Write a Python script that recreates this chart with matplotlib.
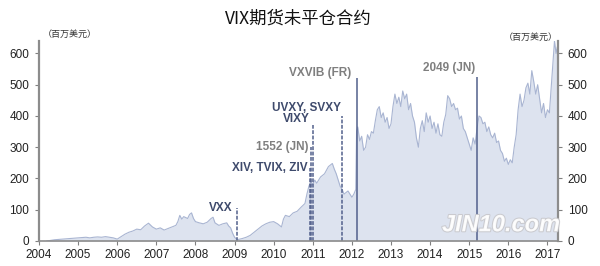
import matplotlib
matplotlib.use('Agg')
import matplotlib.pyplot as plt
import matplotlib.patheffects as pe

plt.rcParams['font.family'] = ['Liberation Sans', 'Noto Sans CJK SC', 'DejaVu Sans']

# open interest, million USD (decimal year, value)
dates = [2004.2, 2004.3, 2004.4, 2004.5, 2004.6, 2004.7, 2004.8, 2004.9,
         2005.0, 2005.1, 2005.2, 2005.3, 2005.4, 2005.5, 2005.6, 2005.7, 2005.8, 2005.9,
         2006.0, 2006.1, 2006.2, 2006.3, 2006.4, 2006.5, 2006.6, 2006.7, 2006.8, 2006.9,
         2007.0, 2007.1, 2007.2, 2007.3, 2007.4, 2007.5, 2007.55, 2007.6, 2007.65, 2007.7,
         2007.8, 2007.85, 2007.9, 2007.95,
         2008.0, 2008.1, 2008.2, 2008.3, 2008.4, 2008.45, 2008.5, 2008.6, 2008.7, 2008.8,
         2008.85, 2008.9, 2008.95,
         2009.0, 2009.05, 2009.1, 2009.2, 2009.3, 2009.4, 2009.5, 2009.6, 2009.7, 2009.8, 2009.9,
         2010.0, 2010.1, 2010.2, 2010.25, 2010.3, 2010.4, 2010.5, 2010.6, 2010.7, 2010.8,
         2010.85, 2010.9, 2010.95,
         2011.0, 2011.05, 2011.1, 2011.2, 2011.3, 2011.4, 2011.5, 2011.55, 2011.6, 2011.7,
         2011.75, 2011.8, 2011.9,
         2012.0, 2012.05, 2012.1, 2012.12, 2012.15, 2012.2, 2012.25, 2012.3, 2012.35, 2012.4,
         2012.45, 2012.5, 2012.55, 2012.6, 2012.65, 2012.7, 2012.75, 2012.8, 2012.85, 2012.9,
         2012.95,
         2013.0, 2013.05, 2013.1, 2013.15, 2013.2, 2013.25, 2013.3, 2013.35, 2013.4, 2013.45,
         2013.5, 2013.55, 2013.6, 2013.65, 2013.7, 2013.75, 2013.8, 2013.85, 2013.9, 2013.95,
         2014.0, 2014.05, 2014.1, 2014.15, 2014.2, 2014.25, 2014.3, 2014.35, 2014.4, 2014.45,
         2014.5, 2014.55, 2014.6, 2014.65, 2014.7, 2014.75, 2014.8, 2014.85, 2014.9, 2014.95,
         2015.0, 2015.05, 2015.1, 2015.15, 2015.2, 2015.25, 2015.3, 2015.35, 2015.4, 2015.45,
         2015.5, 2015.55, 2015.6, 2015.65, 2015.7, 2015.75, 2015.8, 2015.85, 2015.9, 2015.95,
         2016.0, 2016.05, 2016.1, 2016.15, 2016.2, 2016.25, 2016.3, 2016.35, 2016.4, 2016.45,
         2016.5, 2016.55, 2016.6, 2016.65, 2016.7, 2016.75, 2016.8, 2016.85, 2016.9, 2016.95,
         2017.0, 2017.05, 2017.1, 2017.15, 2017.18, 2017.22, 2017.25]
values = [0, 2, 4, 5, 6, 7, 8, 9,
          10, 11, 12, 10, 12, 13, 12, 14, 12, 10,
          6, 14, 22, 28, 32, 38, 36, 48, 57, 45,
          38, 42, 35, 40, 45, 50, 62, 82, 70, 78,
          72, 85, 90, 72,
          62, 58, 55, 60, 72, 76, 58, 50, 55, 58,
          48, 42, 25,
          12, 6, 5, 8, 12, 18, 28, 38, 48, 55, 60,
          62, 55, 45, 70, 82, 78, 90, 95, 108, 120,
          150, 175, 190,
          180, 195, 185, 205, 215, 238, 248, 230, 215, 175,
          165, 150, 160,
          140, 150, 165, 350, 365, 320, 335, 290, 300, 340,
          325, 350, 345, 385, 420, 430, 395, 410, 380, 395,
          360,
          375, 430, 470, 440, 460, 430, 480, 455, 470, 420,
          440, 400, 380, 330, 300, 360, 385, 350, 410, 380,
          400, 360, 380, 345, 375, 340, 335, 380, 405, 465,
          455, 430, 440, 420, 425, 390, 400, 360, 350, 330,
          310, 290, 330, 310, 360, 400, 395, 375, 380, 350,
          365, 340, 330, 345, 315, 320, 290, 280, 255, 265,
          245, 260, 250, 300, 340, 420, 470, 430, 450, 490,
          505, 470, 545, 510, 470, 500, 455, 410, 440, 395,
          420, 410, 500, 590, 640, 600, 620]

# product launches
event_x = [2009.07, 2010.93, 2010.96, 2011.0, 2011.75, 2012.12, 2015.2]
event_top = [105, 235, 300, 370, 400, 520, 525]
event_dashed = [True, True, True, True, True, False, False]

years = list(range(2004, 2018))
yticks = [0, 100, 200, 300, 400, 500, 600]

fig = plt.figure(figsize=(6, 2.66), dpi=100)
ax = fig.add_axes([0.065, 0.094, 0.865, 0.752])

ax.fill_between(dates, values, color='#dde3ef', lw=0)
ax.plot(dates, values, color='#a9b5d2', lw=0.8)

for x, top, dsh in zip(event_x, event_top, event_dashed):
    ax.vlines(x, 0, top, color='#52608c', lw=1.1,
              linestyles=(0, (2.5, 1)) if dsh else 'solid')

dark = '#3e4a6c'
grey = '#7f7f7f'
ax.text(2008.94, 105, 'VXX', ha='right', va='center', fontsize=8.5, fontweight='bold', color=dark)
ax.text(2010.86, 233, 'XIV, TVIX, ZIV', ha='right', va='center', fontsize=8.5, fontweight='bold', color=dark)
ax.text(2010.88, 300, '1552 (JN)', ha='right', va='center', fontsize=8.5, fontweight='bold', color=grey)
ax.text(2010.83, 425, 'UVXY, SVXY', ha='center', va='center', fontsize=8.5, fontweight='bold', color=dark)
ax.text(2010.58, 390, 'VIXY', ha='center', va='center', fontsize=8.5, fontweight='bold', color=dark)
ax.text(2011.2, 537, 'VXVIB (FR)', ha='center', va='center', fontsize=8.5, fontweight='bold', color=grey)
ax.text(2014.49, 553, '2049 (JN)', ha='center', va='center', fontsize=8.5, fontweight='bold', color=grey)

ax.set_xlim(2004, 2017.27)
ax.set_ylim(0, 640)
ax.set_xticks(years)
ax.set_xticklabels([str(y) for y in years], fontsize=8.5, color='#222222')
ax.set_yticks(yticks)
ax.set_yticklabels([str(v) for v in yticks], fontsize=8.5, color='#222222')
ax.tick_params(axis='y', left=True, right=True, labelleft=True, labelright=True,
               length=3, width=0.8, color='#808080', pad=4)
ax.tick_params(axis='x', length=3, width=0.8, color='#808080', pad=3)

for side in ['left', 'right']:
    ax.spines[side].set_color('#8c8c8c')
    ax.spines[side].set_linewidth(1.6)
ax.spines['bottom'].set_color('#8c8c8c')
ax.spines['bottom'].set_linewidth(1.2)
ax.spines['top'].set_visible(False)

fig.text(0.498, 0.93, 'VIX期货未平仓合约', ha='center', va='center', fontsize=12.5,
         family=['Noto Sans CJK SC', 'DejaVu Sans'], color='#111111')
fig.text(0.117, 0.872, '（百万美元）', ha='center', va='center', fontsize=6.5,
         family=['Noto Sans CJK SC', 'DejaVu Sans'], color='#333333')
fig.text(0.885, 0.86, '（百万美元）', ha='center', va='center', fontsize=6.5,
         family=['Noto Sans CJK SC', 'DejaVu Sans'], color='#333333')

# watermark
fig.text(0.835, 0.155, 'JIN10.com', ha='center', va='center', fontsize=17,
         fontweight='bold', style='italic', color='white', alpha=0.9,
         path_effects=[pe.withStroke(linewidth=1.5, foreground='#c8c8cc')])

fig.savefig('out.png', dpi=100)
